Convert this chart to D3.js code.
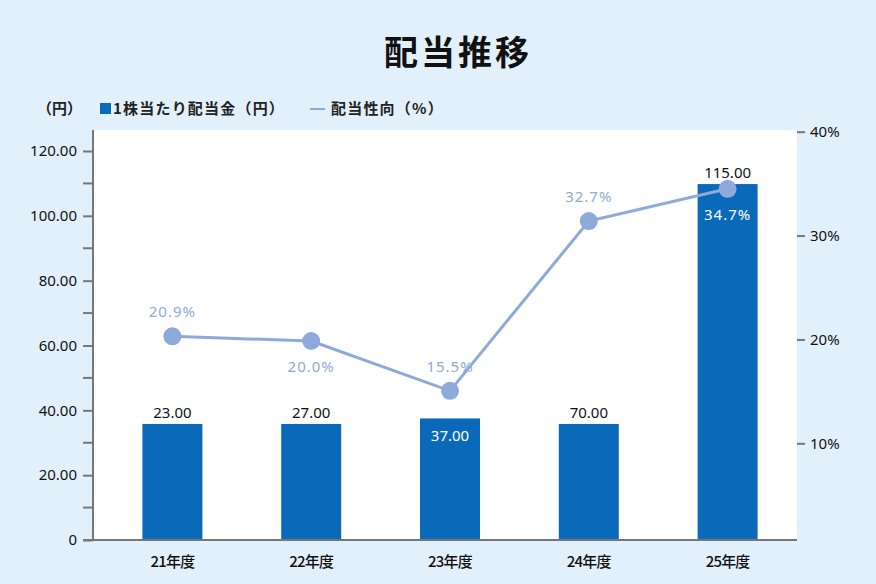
<!DOCTYPE html>
<html>
<head>
<meta charset="utf-8">
<script src="https://cdn.jsdelivr.net/npm/d3@7"></script>
<style>
  body { margin: 0; background: #e2f0fb; }
  svg { display: block; font-family: "Noto Sans", "Noto Sans CJK JP", sans-serif; }
</style>
</head>
<body>
<script>
// data
var years = ["21年度", "22年度", "23年度", "24年度", "25年度"];
var dividend = [35.8, 35.8, 37.5, 35.8, 109.8];        // bar heights as drawn
var dividendLabels = ["23.00", "27.00", "37.00", "70.00", "115.00"];
var payout = [20.3, 19.85, 15.05, 31.4, 34.5];          // points as drawn
var payoutLabels = ["20.9%", "20.0%", "15.5%", "32.7%", "34.7%"];
var leftTicks = [0, 20, 40, 60, 80, 100, 120];
var leftMinor = [10, 30, 50, 70, 90, 110];
var rightTicks = [10, 20, 30, 40];

var W = 876, H = 584;
var barColor = "#0a69b8", lineColor = "#8eaadb", axisColor = "#777";

var svg = d3.select("body").append("svg")
    .attr("width", W)
    .attr("height", H);

// title
svg.append("text")
    .attr("x", 458).attr("y", 65)
    .attr("text-anchor", "middle")
    .attr("font-family", "Noto Sans CJK JP")
    .attr("font-size", 34).attr("font-weight", 700)
    .attr("letter-spacing", 3)
    .attr("fill", "#111")
    .text("配当推移");

// plot area
var pLeft = 93, pRight = 797, pTop = 130, pBottom = 540;
svg.append("rect")
    .attr("x", pLeft).attr("y", pTop)
    .attr("width", pRight - pLeft).attr("height", pBottom - pTop)
    .attr("fill", "#fff");

var x = d3.scaleBand().domain(years).range([103, 797]);
var y = d3.scaleLinear().domain([0, 120]).range([540, 151]);
var y2 = d3.scaleLinear().domain([10, 40]).range([443.3, 131.7]);

// legend
var lg = svg.append("g").attr("font-family", "Noto Sans CJK JP").attr("font-size", 15)
    .attr("font-weight", 700).attr("fill", "#222");
lg.append("text").attr("x", 82).attr("y", 114).attr("text-anchor", "end").text("（円）");
lg.append("rect").attr("x", 100).attr("y", 103).attr("width", 11).attr("height", 11).attr("fill", barColor);
lg.append("text").attr("x", 113).attr("y", 114).attr("letter-spacing", 1.2).text("1株当たり配当金（円）");
lg.append("line").attr("x1", 310).attr("x2", 325).attr("y1", 109).attr("y2", 109)
    .attr("stroke", lineColor).attr("stroke-width", 2);
lg.append("text").attr("x", 331).attr("y", 114).attr("letter-spacing", 1.2).text("配当性向（%）");

// bars
svg.selectAll("rect.bar")
    .data(dividend)
    .enter()
    .append("rect")
    .attr("class", "bar")
    .attr("x", function(d, i) { return x(years[i]) + x.bandwidth() / 2 - 30; })
    .attr("y", function(d) { return y(d); })
    .attr("width", 60)
    .attr("height", function(d) { return y(0) - y(d); })
    .attr("fill", barColor);

// left axis
var gl = svg.append("g").attr("transform", "translate(" + pLeft + ",0)")
    .call(d3.axisLeft(y).tickValues(leftTicks).tickSize(10).tickPadding(6)
        .tickFormat(function(d) { return d === 0 ? "0" : d3.format(".2f")(d); }));
gl.select(".domain").remove();
gl.selectAll(".tick line").attr("stroke", axisColor).attr("stroke-width", 2);
gl.selectAll(".tick text").attr("font-size", 15).attr("fill", "#111").attr("font-family", "Noto Sans");
gl.selectAll("line.minor")
    .data(leftMinor).enter().append("line").attr("class", "minor")
    .attr("x1", -10).attr("x2", 0)
    .attr("y1", function(d) { return y(d); }).attr("y2", function(d) { return y(d); })
    .attr("stroke", axisColor).attr("stroke-width", 2);
svg.append("line").attr("x1", pLeft).attr("x2", pLeft).attr("y1", pTop).attr("y2", pBottom)
    .attr("stroke", axisColor).attr("stroke-width", 2);

// right axis
var gr = svg.append("g").attr("transform", "translate(" + pRight + ",0)")
    .call(d3.axisRight(y2).tickValues(rightTicks).tickSize(8).tickPadding(5)
        .tickFormat(function(d) { return d + "%"; }));
gr.select(".domain").remove();
gr.selectAll(".tick line").attr("stroke", axisColor).attr("stroke-width", 2);
gr.selectAll(".tick text").attr("font-size", 15).attr("fill", "#111").attr("font-family", "Noto Sans");

// bottom axis
var gb = svg.append("g").attr("transform", "translate(0," + pBottom + ")")
    .call(d3.axisBottom(x).tickSize(0).tickPadding(16));
gb.select(".domain").remove();
gb.selectAll(".tick text").attr("font-size", 15).attr("font-weight", 500).attr("fill", "#111")
    .attr("font-family", "Noto Sans CJK JP").attr("letter-spacing", -0.8);
svg.append("line").attr("x1", 83).attr("x2", pRight).attr("y1", pBottom).attr("y2", pBottom)
    .attr("stroke", axisColor).attr("stroke-width", 2);

// bar labels
var barInside = [false, false, true, false, false];
svg.selectAll("text.blabel")
    .data(dividend)
    .enter()
    .append("text")
    .attr("class", "blabel")
    .attr("x", function(d, i) { return x(years[i]) + x.bandwidth() / 2; })
    .attr("y", function(d, i) { return barInside[i] ? y(d) + 23 : y(d) - 6; })
    .attr("text-anchor", "middle")
    .attr("font-size", 15)
    .attr("fill", function(d, i) { return barInside[i] ? "#fff" : "#111"; })
    .text(function(d, i) { return dividendLabels[i]; });

// payout line
var line = d3.line()
    .x(function(d, i) { return x(years[i]) + x.bandwidth() / 2; })
    .y(function(d) { return y2(d); });
svg.append("path")
    .datum(payout)
    .attr("d", line)
    .attr("fill", "none")
    .attr("stroke", lineColor)
    .attr("stroke-width", 3);

svg.selectAll("circle")
    .data(payout)
    .enter()
    .append("circle")
    .attr("cx", function(d, i) { return x(years[i]) + x.bandwidth() / 2; })
    .attr("cy", function(d) { return y2(d); })
    .attr("r", 9)
    .attr("fill", lineColor);

var below = [false, true, false, false, true];
svg.selectAll("text.plabel")
    .data(payout)
    .enter()
    .append("text")
    .attr("class", "plabel")
    .attr("x", function(d, i) { return x(years[i]) + x.bandwidth() / 2; })
    .attr("y", function(d, i) { return below[i] ? y2(d) + 31 : y2(d) - 19; })
    .attr("text-anchor", "middle")
    .attr("font-size", 15)
    .attr("letter-spacing", 1)
    .attr("fill", function(d, i) { return i === 4 ? "#fff" : lineColor; })
    .text(function(d, i) { return payoutLabels[i]; });
</script>
</body>
</html>
